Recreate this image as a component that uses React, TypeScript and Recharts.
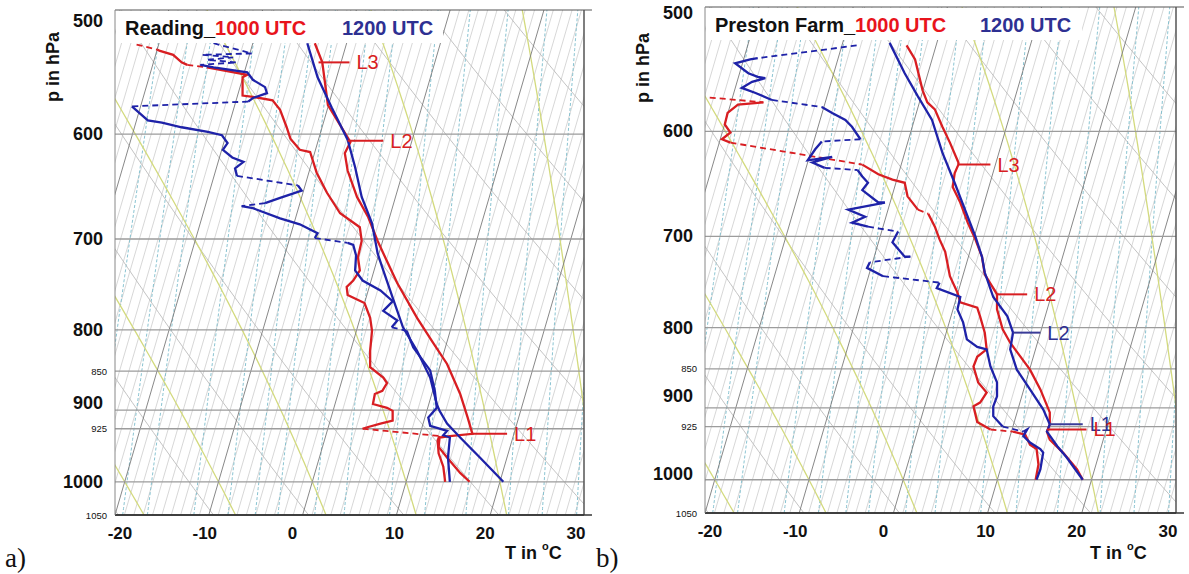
import { ComposedChart, Line, XAxis, YAxis, ReferenceLine } from "recharts"

const FONT = "'Liberation Sans', Arial, sans-serif"
const RED = "#d81e22"
const BLUE = "#1e22a8"
const NAVY = "#2e3092"

// skew-T frame
const P_TOP = 500
const P_BOT = 1050
const SKEW = 21.2 // °C of shift per unit of ln p

const T_TICKS = [-20, -10, 0, 10, 20, 30]
const P_TICKS = [500, 600, 700, 800, 850, 900, 925, 1000, 1050]
const P_MAJOR = [500, 600, 700, 800, 900, 1000]
const P_GRID = [600, 700, 800, 850, 900, 925, 1000]

// background families of the diagram
const ISOTHERMS: number[] = []
for (let t = -40; t <= 30; t++) ISOTHERMS.push(t)
const DRY_THETA = [240, 250, 260, 270, 280, 290, 300, 310, 320, 330, 340] // K
const MOIST_THETA_W = [-20, -10, 0, 10, 20, 30] // °C at 1000 hPa
const MIXING_RATIOS = [0.6, 0.8, 1, 1.5, 2, 2.5, 3, 4, 5, 7, 9, 12, 16, 20, 25] // g/kg

// soundings: [position on T axis °C, p hPa, 1 = dashed join to previous point]
type Pt = [number, number] | [number, number, number]

const readingT1000: Pt[] = [
  [1.3, 525], [2.1, 540], [2.7, 575], [5.1, 607], [4.5, 617], [4.8, 633], [5.8, 658],
  [7.0, 678], [8.0, 702], [8.8, 719], [10.1, 747], [12.2, 786], [13.9, 815], [15.4, 841],
  [16.8, 879], [17.6, 910], [18.1, 932], [15.7, 935], [14.6, 937], [14.5, 950], [15.4, 965],
  [16.8, 987], [17.8, 1000],
]
const readingTd1000: Pt[] = [
  [-17.7, 526], [-15.5, 530, 1], [-15.2, 531], [-13.8, 534], [-12.9, 540], [-12.3, 542],
  [-10.2, 544, 1], [-5.9, 550], [-6.4, 552], [-6.4, 567], [-5.3, 568], [-3.2, 571], [-2.4, 579],
  [-1.7, 594], [-1.3, 604], [-0.3, 614], [0.8, 616], [1.5, 635], [2.6, 654], [4.0, 674],
  [6.1, 688], [6.3, 702], [5.9, 719], [6.1, 733], [5.4, 744], [4.7, 751], [4.8, 760],
  [6.6, 769], [7.2, 786], [7.4, 801], [7.2, 825], [7.2, 845], [8.6, 858], [9.0, 865],
  [8.5, 875], [7.7, 879], [7.5, 892], [9.0, 897], [9.6, 901], [9.6, 914], [8.3, 918],
  [6.9, 923], [6.4, 925], [14.6, 935, 1], [14.4, 941], [14.5, 959], [15.0, 978], [15.2, 1000],
]
const readingT1200: Pt[] = [
  [0.5, 525], [1.6, 552], [3.1, 577], [4.8, 605], [5.6, 630], [6.3, 658], [7.4, 684],
  [8.0, 715], [8.6, 733], [9.6, 763], [10.7, 797], [12.2, 825], [13.6, 858], [14.3, 892],
  [14.6, 901], [15.4, 918], [16.8, 937], [18.9, 965], [21.4, 1000],
]
const readingTd1200: Pt[] = [
  [-9.5, 525], [-5.4, 533, 1], [-10.7, 534, 1], [-7.4, 536, 1], [-10.2, 538, 1], [-7.0, 540, 1],
  [-10.9, 542, 1], [-9.5, 544], [-5.9, 548], [-5.3, 554], [-4.0, 560], [-3.8, 565], [-5.3, 569],
  [-5.8, 572], [-18.2, 576, 1], [-16.5, 588], [-15.0, 590], [-12.9, 594], [-10.1, 598],
  [-8.6, 601], [-8.0, 608], [-8.5, 614], [-7.5, 621], [-6.3, 625], [-7.2, 631], [-7.0, 638],
  [-0.5, 647, 1], [-0.1, 652], [-2.4, 659], [-4.0, 664], [-6.5, 667, 1], [-5.3, 669],
  [-2.4, 679], [-0.3, 685], [1.6, 694], [1.3, 699], [4.8, 704, 1], [5.4, 706], [5.7, 717],
  [5.6, 733], [6.4, 744], [8.3, 755], [9.6, 767], [8.6, 778], [10.1, 789], [9.5, 797],
  [11.1, 801, 1], [11.8, 821], [13.6, 849], [14.1, 875], [14.3, 897], [13.4, 910],
  [13.6, 921], [15.4, 928], [15.0, 934], [15.7, 937], [15.5, 965], [15.7, 1000],
]

const prestonT1000: Pt[] = [
  [1.4, 529], [2.3, 540], [3.1, 565], [3.6, 575], [4.4, 581], [5.2, 596], [6.0, 610],
  [6.9, 628], [6.9, 630], [6.5, 638], [6.3, 651], [7.1, 666], [7.9, 686], [8.7, 703],
  [9.4, 721], [9.7, 740], [11.0, 762], [11.0, 779], [11.6, 802], [12.4, 818], [14.5, 851],
  [15.6, 876], [16.6, 906], [16.6, 922], [16.3, 932], [16.6, 943], [18.0, 961], [19.5, 985],
  [20.1, 1000],
]
const prestonTd1000: Pt[] = [
  [-19.5, 571], [-13.8, 575, 1], [-16.5, 577], [-17.6, 584], [-17.9, 594], [-17.3, 601],
  [-18.2, 607], [-17.3, 610], [-3.3, 630, 1], [-1.6, 639], [-0.1, 644], [1.2, 647], [1.5, 660],
  [2.6, 673], [3.7, 677, 1], [4.4, 690], [4.9, 703], [5.5, 716], [6.0, 742], [6.8, 760],
  [7.1, 771], [8.9, 777], [9.2, 787], [9.7, 806], [9.9, 826], [8.9, 835], [8.5, 847],
  [9.0, 867], [9.9, 880], [9.2, 893], [8.5, 898], [8.9, 919], [10.3, 929], [12.7, 932, 1],
  [14.0, 936], [14.5, 950], [15.2, 956], [15.4, 978], [15.1, 1000],
]
const prestonT1200: Pt[] = [
  [-0.4, 527], [1.2, 551], [2.6, 570], [4.1, 590], [5.2, 619], [6.5, 647], [7.6, 673],
  [8.7, 700], [9.4, 721], [9.7, 738], [10.6, 765], [12.1, 787], [12.7, 806], [12.4, 826],
  [13.1, 851], [14.5, 876], [15.9, 902], [16.6, 922], [16.3, 932], [17.4, 952], [18.4, 968],
  [20.1, 1000],
]
const prestonTd1200: Pt[] = [
  [-3.9, 529], [-14.4, 539, 1], [-15.2, 540], [-16.8, 543], [-15.4, 551], [-14.4, 554],
  [-13.6, 555], [-15.0, 558], [-16.1, 563], [-14.7, 567], [-12.9, 573], [-7.6, 579, 1],
  [-6.5, 584], [-5.1, 590], [-4.4, 596], [-3.5, 607], [-7.6, 609, 1], [-8.3, 616],
  [-9.1, 626], [-6.5, 623], [-8.6, 628], [-7.3, 633], [-3.8, 635, 1], [-3.3, 641],
  [-2.7, 647], [-3.3, 654], [-1.6, 666], [-0.9, 666], [-4.8, 673], [-3.0, 680], [-4.4, 686],
  [-2.7, 690], [0.5, 695, 1], [-0.1, 706], [1.2, 721], [1.8, 721], [-2.5, 727, 1],
  [-2.8, 733], [-1.1, 742], [4.9, 749, 1], [4.6, 755], [7.1, 765], [6.8, 779], [7.4, 794],
  [7.8, 814], [8.9, 823], [9.9, 826], [10.3, 847], [11.0, 867], [11.0, 885], [10.6, 898],
  [10.6, 911], [11.6, 925], [13.8, 932, 1], [14.2, 929], [13.8, 938], [14.5, 947],
  [15.6, 956], [15.9, 961], [15.6, 985], [15.2, 1000],
]

// level marks: [label, run, p, from, to]
type Mark = [string, "1000" | "1200", number, number, number]
const readingMarks: Mark[] = [
  ["L3", "1000", 540, 1.7, 5.0],
  ["L2", "1000", 606, 4.8, 8.6],
  ["L1", "1000", 932, 18.1, 21.8],
]
const prestonMarks: Mark[] = [
  ["L3", "1000", 630, 6.9, 10.3],
  ["L2", "1000", 762, 11.0, 14.2],
  ["L2", "1200", 806, 12.7, 15.6],
  ["L1", "1200", 922, 16.6, 20.1],
  ["L1", "1000", 929, 16.3, 20.5],
]

type XY = { x: number | null; p: number | null }

const skewX = (tC: number, p: number) => tC + SKEW * Math.log(P_BOT / p)
const satVap = (tC: number) => 6.112 * Math.exp((17.67 * tC) / (tC + 243.5))

const LEVELS: number[] = []
for (let p = P_BOT; p >= P_TOP; p -= 10) LEVELS.push(p)

function joined(lines: XY[][]): XY[] {
  const out: XY[] = []
  for (const l of lines) out.push(...l, { x: null, p: null })
  return out
}

function moistSlope(tK: number, p: number) {
  const es = satVap(tK - 273.15)
  const rs = (0.622 * es) / (p - es)
  const num = 287.04 * tK + 2.501e6 * rs
  const den = 1005.7 + (2.501e6 * 2.501e6 * rs * 0.622) / (287.04 * tK * tK)
  return num / den / p
}

function moistAdiabat(twC: number): XY[] {
  const walk = (dp: number, stop: number) => {
    const pts: XY[] = []
    let t = twC + 273.15
    for (let p = 1000; dp < 0 ? p > stop : p < stop; p += dp) {
      const k1 = moistSlope(t, p)
      const k2 = moistSlope(t + (k1 * dp) / 2, p + dp / 2)
      t += k2 * dp
      pts.push({ x: skewX(t - 273.15, p + dp), p: p + dp })
    }
    return pts
  }
  return [...walk(10, P_BOT).reverse(), { x: skewX(twC, 1000), p: 1000 }, ...walk(-10, P_TOP)]
}

const isotherm = (t: number): XY[] => [
  { x: skewX(t, P_BOT), p: P_BOT },
  { x: skewX(t, P_TOP), p: P_TOP },
]
const isoLight = joined(ISOTHERMS.filter((t) => t % 10 !== 0).map(isotherm))
const isoDark = joined(ISOTHERMS.filter((t) => t % 10 === 0).map(isotherm))
const dryLines = joined(
  DRY_THETA.map((th) => LEVELS.map((p) => ({ x: skewX(th * Math.pow(p / 1000, 0.2857) - 273.15, p), p })))
)
const mixLines = joined(
  MIXING_RATIOS.map((w) =>
    LEVELS.map((p) => {
      const l = Math.log((w * p) / (622 + w) / 6.112)
      return { x: skewX((243.5 * l) / (17.67 - l), p), p }
    })
  )
)
const moistLines = joined(MOIST_THETA_W.map(moistAdiabat))
const gridLines = joined(P_GRID.map((p) => [{ x: -20, p }, { x: 30, p }]))

function toRuns(pts: Pt[]) {
  const runs: { dashed: boolean; data: XY[] }[] = []
  for (let i = 1; i < pts.length; i++) {
    const dashed = pts[i][2] === 1
    const prev = { x: pts[i - 1][0], p: pts[i - 1][1] }
    const cur = { x: pts[i][0], p: pts[i][1] }
    const last = runs[runs.length - 1]
    if (last && last.dashed === dashed) last.data.push(cur)
    else runs.push({ dashed, data: [prev, cur] })
  }
  return runs
}

const T_LABEL_DX: Record<number, number> = { [-20]: 5, [-10]: -4, 0: -10, 10: -2, 20: -5, 30: -8 }

function bgLine(key: string, data: XY[], stroke: string, width: number, dash?: string) {
  return (
    <Line
      key={key}
      data={data}
      dataKey="p"
      stroke={stroke}
      strokeWidth={width}
      strokeDasharray={dash}
      dot={false}
      activeDot={false}
      legendType="none"
      isAnimationActive={false}
    />
  )
}

type PanelProps = {
  width: number
  margin: { top: number; right: number; bottom: number; left: number }
  series: { pts: Pt[]; color: string }[]
  marks: Mark[]
  pShift: Record<number, number>
}

function SkewTPanel({ width, margin, series, marks, pShift }: PanelProps) {
  return (
    <ComposedChart width={width} height={574} margin={margin}>
      <XAxis
        type="number"
        dataKey="x"
        domain={[-20, 30]}
        ticks={T_TICKS}
        interval={0}
        allowDataOverflow
        height={30}
        tickLine={false}
        axisLine={{ stroke: "#333", strokeWidth: 1.5 }}
        tick={(props: any) => (
          <text
            x={props.x + (T_LABEL_DX[props.payload.value] ?? 0)}
            y={props.y + 10}
            textAnchor="middle"
            dominantBaseline="central"
            fontFamily={FONT}
            fontSize={17}
            fontWeight={700}
            fill="#111"
          >
            {props.payload.value}
          </text>
        )}
      />
      <YAxis
        type="number"
        dataKey="p"
        scale="log"
        domain={[P_TOP, P_BOT]}
        reversed
        allowDataOverflow
        ticks={P_TICKS}
        interval={0}
        width={60}
        tickLine={false}
        axisLine={{ stroke: "#888" }}
        tick={(props: any) => {
          const v = props.payload.value
          const big = P_MAJOR.includes(v)
          return (
            <text
              x={props.x - (big ? 4 : 0)}
              y={props.y + (pShift[v] ?? 0)}
              textAnchor="end"
              dominantBaseline="central"
              fontFamily={FONT}
              fontSize={big ? 18 : 9.5}
              fontWeight={big ? 700 : 400}
              fill="#111"
            >
              {v}
            </text>
          )
        }}
      />
      {bgLine("iso-light", isoLight, "#c9c9c9", 0.75)}
      {bgLine("mix", mixLines, "#7cbccc", 0.9, "3 2")}
      {bgLine("dry", dryLines, "#bcbcbc", 0.9)}
      {bgLine("moist", moistLines, "#d3da7e", 1.3)}
      {bgLine("iso-dark", isoDark, "#7a7a7a", 0.9)}
      {bgLine("grid", gridLines, "#9c9c9c", 1.3)}
      {series.flatMap((s, si) =>
        toRuns(s.pts).map((run, ri) => (
          <Line
            key={`s${si}-${ri}`}
            data={run.data}
            dataKey="p"
            stroke={s.color}
            strokeWidth={run.dashed ? 1.8 : 2.3}
            strokeDasharray={run.dashed ? "6 4" : undefined}
            dot={false}
            activeDot={false}
            legendType="none"
            isAnimationActive={false}
          />
        ))
      )}
      {marks.map(([text, run, p, x0, x1], i) => {
        const color = run === "1000" ? RED : NAVY
        return (
          <ReferenceLine
            key={`m${i}`}
            segment={[{ x: x0, y: p }, { x: x1, y: p }]}
            stroke={run === "1000" ? RED : "#3a3c98"}
            strokeWidth={2}
            ifOverflow="visible"
            label={(props: any) => {
              const vb = props.viewBox
              return (
                <text
                  x={vb.x + vb.width + 7}
                  y={vb.y + (vb.height || 0) / 2}
                  fill={color}
                  fontSize={20}
                  fontFamily={FONT}
                  dominantBaseline="central"
                >
                  {text}
                </text>
              )
            }}
          />
        )
      })}
      <ReferenceLine segment={[{ x: -20, y: P_TOP }, { x: 30.85, y: P_TOP }]} stroke="#555" strokeWidth={1.2} ifOverflow="visible" />
      <ReferenceLine segment={[{ x: 30, y: P_TOP }, { x: 30, y: P_BOT }]} stroke="#555" strokeWidth={1.5} ifOverflow="visible" />
      <ReferenceLine segment={[{ x: -20, y: P_BOT }, { x: 30.85, y: P_BOT }]} stroke="#333" strokeWidth={1.5} ifOverflow="visible" />
    </ComposedChart>
  )
}

function Title({ x, y, w, h, name, tx, split }: { x: number; y: number; w: number; h: number; name: string; tx: number; split: number }) {
  return (
    <g>
      <rect x={x} y={y} width={w} height={h} fill="#fff" />
      <text x={tx} y={y + h / 2 + 1} dominantBaseline="central" fontFamily={FONT} fontSize={20} fontWeight={700}>
        <tspan fill="#111">{name}</tspan>
        <tspan fill="#e8141c">1000 UTC</tspan>
        <tspan x={split} fill={NAVY}>1200 UTC</tspan>
      </text>
    </g>
  )
}

function AxisTexts({ px, py, tx, ty }: { px: number; py: number; tx: number; ty: number }) {
  return (
    <g fontFamily={FONT} fontWeight={700} fill="#111">
      <text x={px} y={py} fontSize={18} textAnchor="middle" dominantBaseline="central" transform={`rotate(-90 ${px} ${py})`}>
        p in hPa
      </text>
      <text x={tx} y={ty} fontSize={18} dominantBaseline="central">
        T in <tspan fontSize={11} dy={-7}>o</tspan>
        <tspan dy={7}>C</tspan>
      </text>
    </g>
  )
}

export default function App() {
  return (
    <div style={{ position: "absolute", left: 0, top: 0, width: 1189, height: 574, background: "#fff" }}>
      <div style={{ position: "absolute", left: 0, top: 0 }}>
        <SkewTPanel
          width={600}
          margin={{ top: 10, right: 16, bottom: 29, left: 55 }}
          series={[
            { pts: readingTd1000, color: RED },
            { pts: readingT1000, color: RED },
            { pts: readingTd1200, color: BLUE },
            { pts: readingT1200, color: BLUE },
          ]}
          marks={readingMarks}
          pShift={{ 500: 11, 900: -7 }}
        />
      </div>
      <div style={{ position: "absolute", left: 600, top: 0 }}>
        <SkewTPanel
          width={589}
          margin={{ top: 7, right: 13, bottom: 31, left: 45 }}
          series={[
            { pts: prestonTd1000, color: RED },
            { pts: prestonT1000, color: RED },
            { pts: prestonTd1200, color: BLUE },
            { pts: prestonT1200, color: BLUE },
          ]}
          marks={prestonMarks}
          pShift={{ 500: 6, 900: -12, 1000: -6 }}
        />
      </div>
      <svg width={1189} height={574} style={{ position: "absolute", left: 0, top: 0, pointerEvents: "none" }}>
        <Title x={116} y={11} w={327} h={32} name="Reading_" tx={125} split={342} />
        <Title x={706} y={8} w={376} h={32} name="Preston Farm_" tx={715} split={980} />
        <AxisTexts px={53} py={67} tx={505} ty={553} />
        <AxisTexts px={643} py={68} tx={1090} ty={553} />
        <text x={5} y={567} fontFamily="'Liberation Serif', serif" fontSize={27} fill="#111">a)</text>
        <text x={596} y={567} fontFamily="'Liberation Serif', serif" fontSize={27} fill="#111">b)</text>
      </svg>
    </div>
  )
}
